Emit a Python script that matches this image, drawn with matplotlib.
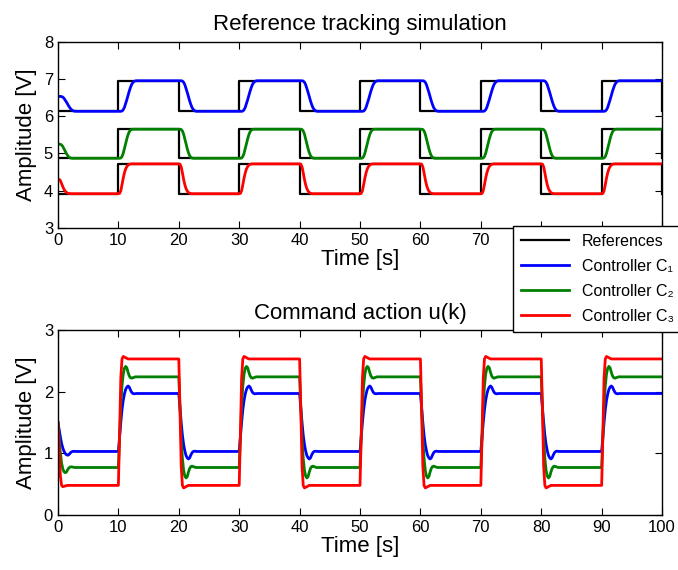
import numpy as np
import matplotlib
matplotlib.use('Agg')
from matplotlib import pyplot as plt

plt.rcParams['font.family'] = ['Liberation Sans', 'DejaVu Sans']

# simulation time, sampled every 0.2 s
dt = 0.2
t_end = 100
step_times = [0, 10, 20, 30, 40, 50, 60, 70, 80, 90, 100]
ref_state = [0, 1, 0, 1, 0, 1, 0, 1, 0, 1, 0]   # 0 = low level, 1 = high level

# output levels of the three loops (C1, C2, C3)
out_low = [6.13, 4.87, 3.92]
out_high = [6.95, 5.65, 4.72]
out_init = [6.53, 5.25, 4.31]

# command levels u(k)
u_low = [1.03, 0.77, 0.48]
u_high = [1.97, 2.24, 2.53]
u_init = [1.5, 1.5, 1.5]

# response after each step, fraction of the jump, read every 0.2 s (0 .. 3.2 s)
out_shape = [
    [0, 0, 0, 0.01, 0.05, 0.13, 0.25, 0.38, 0.52, 0.66, 0.78, 0.88, 0.94, 0.98, 0.995, 1, 1],
    [0, 0, 0.01, 0.06, 0.17, 0.33, 0.5, 0.67, 0.81, 0.91, 0.97, 0.99, 1, 1, 1, 1, 1],
    [0, 0.01, 0.1, 0.3, 0.52, 0.7, 0.83, 0.91, 0.96, 0.985, 0.995, 1, 1, 1, 1, 1, 1],
]
u_shape = [
    [0, 0.25, 0.5, 0.72, 0.88, 0.99, 1.07, 1.11, 1.13, 1.11, 1.06, 1.02, 1.0, 0.995, 0.998, 1, 1],
    [0, 0.35, 0.68, 0.9, 1.03, 1.095, 1.115, 1.1, 1.05, 1.01, 0.99, 0.985, 0.99, 0.995, 1, 1, 1],
    [0, 0.4, 0.85, 1.0, 1.02, 1.015, 1.01, 1.005, 1.0, 1.0, 1.0, 1.0, 1.0, 1.0, 1.0, 1.0, 1.0],
]

colors = ['#0000ff', '#008000', '#ff0000']
labels = ['Controller C\u2081', 'Controller C\u2082', 'Controller C\u2083']

t = np.arange(0, t_end + dt / 2, dt)
n_seg = int(round(10 / dt))


def build(low, high, init, shape):
    y = np.empty(len(t))
    prev = init
    shape = np.asarray(shape)
    for k in range(10):
        new = high if ref_state[k] else low
        seg = np.ones(n_seg)
        seg[:len(shape)] = shape
        y[k * n_seg:(k + 1) * n_seg] = prev + (new - prev) * seg
        prev = new
    y[-1] = prev
    return y


fig = plt.figure(figsize=(6.78, 5.70), dpi=100)
ax1 = fig.add_axes([0.0855, 0.600, 0.891, 0.327])
ax2 = fig.add_axes([0.0855, 0.0965, 0.891, 0.3246])

# top: reference tracking
for i in range(3):
    ref = [out_high[i] if s else out_low[i] for s in ref_state]
    ax1.plot(step_times, ref, color='k', lw=1.6, drawstyle='steps-post',
             label='References' if i == 0 else None)
for i in range(3):
    ax1.plot(t, build(out_low[i], out_high[i], out_init[i], out_shape[i]),
             color=colors[i], lw=2.0, label=labels[i])

# bottom: command action
for i in range(3):
    ax2.plot(t, build(u_low[i], u_high[i], u_init[i], u_shape[i]),
             color=colors[i], lw=2.0)

ax1.set_ylim(3, 8)
ax2.set_ylim(0, 3)
ax1.set_yticks([3, 4, 5, 6, 7, 8])
ax2.set_yticks([0, 1, 2, 3])
for ax in (ax1, ax2):
    ax.set_xlim(0, 100)
    ax.set_xticks(range(0, 101, 10))
    ax.tick_params(direction='in', top=True, right=True, length=5, labelsize=12)
    ax.set_xlabel('Time [s]', fontsize=16, labelpad=1)
    ax.set_ylabel('Amplitude [V]', fontsize=16, labelpad=5)
    for sp in ax.spines.values():
        sp.set_linewidth(1.0)

ax1.set_title('Reference tracking simulation', fontsize=16, pad=8)
ax2.set_title('Command action u(k)', fontsize=16, pad=8)

h, l = ax1.get_legend_handles_labels()
leg = fig.legend(h, l, loc='upper left', bbox_to_anchor=(513 / 678, 1 - 226 / 570),
                 borderaxespad=0, fontsize=11.5, handlelength=3.0, fancybox=False,
                 framealpha=1, edgecolor='k', labelspacing=0.62, borderpad=0.5)
leg.get_frame().set_linewidth(1.0)

plt.savefig('out.png', dpi=100)
